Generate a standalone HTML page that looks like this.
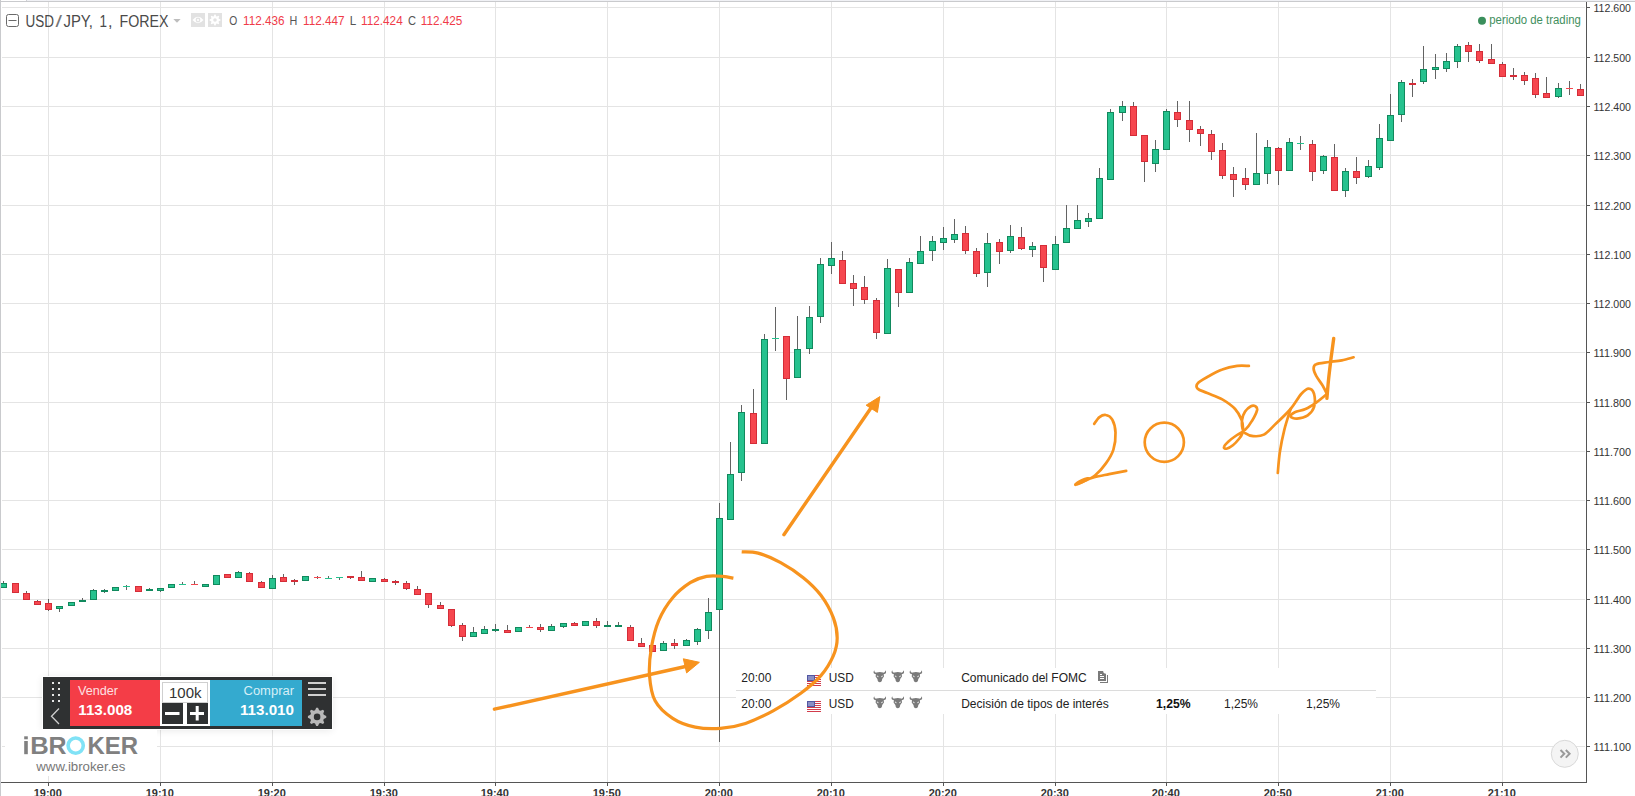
<!DOCTYPE html>
<html><head><meta charset="utf-8">
<style>
html,body{margin:0;padding:0;background:#fff;width:1635px;height:796px;overflow:hidden;}
svg{position:absolute;left:0;top:0;}
text{font-family:"Liberation Sans", sans-serif;}
</style></head><body>
<svg width="1635" height="796" viewBox="0 0 1635 796">
<g shape-rendering="crispEdges">
<rect x="0" y="0" width="1635" height="1" fill="#f0f1f5"/>
<rect x="0" y="0" width="26" height="1" fill="#ffffff"/>
<rect x="26" y="0" width="1" height="1" fill="#d0d0d4"/>
<rect x="0" y="1" width="1635" height="1" fill="#c9cacd"/>
<rect x="2" y="7" width="1583" height="1" fill="#e4e4e4"/>
<rect x="2" y="57" width="1583" height="1" fill="#e4e4e4"/>
<rect x="2" y="106" width="1583" height="1" fill="#e4e4e4"/>
<rect x="2" y="155" width="1583" height="1" fill="#e4e4e4"/>
<rect x="2" y="205" width="1583" height="1" fill="#e4e4e4"/>
<rect x="2" y="254" width="1583" height="1" fill="#e4e4e4"/>
<rect x="2" y="303" width="1583" height="1" fill="#e4e4e4"/>
<rect x="2" y="352" width="1583" height="1" fill="#e4e4e4"/>
<rect x="2" y="402" width="1583" height="1" fill="#e4e4e4"/>
<rect x="2" y="451" width="1583" height="1" fill="#e4e4e4"/>
<rect x="2" y="500" width="1583" height="1" fill="#e4e4e4"/>
<rect x="2" y="549" width="1583" height="1" fill="#e4e4e4"/>
<rect x="2" y="599" width="1583" height="1" fill="#e4e4e4"/>
<rect x="2" y="648" width="1583" height="1" fill="#e4e4e4"/>
<rect x="2" y="697" width="1583" height="1" fill="#e4e4e4"/>
<rect x="2" y="746" width="1583" height="1" fill="#e4e4e4"/>
<rect x="48" y="2" width="1" height="780" fill="#e4e4e4"/>
<rect x="160" y="2" width="1" height="780" fill="#e4e4e4"/>
<rect x="272" y="2" width="1" height="780" fill="#e4e4e4"/>
<rect x="384" y="2" width="1" height="780" fill="#e4e4e4"/>
<rect x="495" y="2" width="1" height="780" fill="#e4e4e4"/>
<rect x="607" y="2" width="1" height="780" fill="#e4e4e4"/>
<rect x="719" y="2" width="1" height="780" fill="#e4e4e4"/>
<rect x="831" y="2" width="1" height="780" fill="#e4e4e4"/>
<rect x="943" y="2" width="1" height="780" fill="#e4e4e4"/>
<rect x="1055" y="2" width="1" height="780" fill="#e4e4e4"/>
<rect x="1166" y="2" width="1" height="780" fill="#e4e4e4"/>
<rect x="1278" y="2" width="1" height="780" fill="#e4e4e4"/>
<rect x="1390" y="2" width="1" height="780" fill="#e4e4e4"/>
<rect x="1502" y="2" width="1" height="780" fill="#e4e4e4"/>
<rect x="1586" y="2" width="1" height="781" fill="#555"/>
<rect x="0" y="782" width="1587" height="1" fill="#555"/>
<rect x="1587" y="7" width="3" height="1" fill="#555"/>
<rect x="1587" y="57" width="3" height="1" fill="#555"/>
<rect x="1587" y="106" width="3" height="1" fill="#555"/>
<rect x="1587" y="155" width="3" height="1" fill="#555"/>
<rect x="1587" y="205" width="3" height="1" fill="#555"/>
<rect x="1587" y="254" width="3" height="1" fill="#555"/>
<rect x="1587" y="303" width="3" height="1" fill="#555"/>
<rect x="1587" y="352" width="3" height="1" fill="#555"/>
<rect x="1587" y="402" width="3" height="1" fill="#555"/>
<rect x="1587" y="451" width="3" height="1" fill="#555"/>
<rect x="1587" y="500" width="3" height="1" fill="#555"/>
<rect x="1587" y="549" width="3" height="1" fill="#555"/>
<rect x="1587" y="599" width="3" height="1" fill="#555"/>
<rect x="1587" y="648" width="3" height="1" fill="#555"/>
<rect x="1587" y="697" width="3" height="1" fill="#555"/>
<rect x="1587" y="746" width="3" height="1" fill="#555"/>
<rect x="48" y="783" width="1" height="3" fill="#555"/>
<rect x="160" y="783" width="1" height="3" fill="#555"/>
<rect x="272" y="783" width="1" height="3" fill="#555"/>
<rect x="384" y="783" width="1" height="3" fill="#555"/>
<rect x="495" y="783" width="1" height="3" fill="#555"/>
<rect x="607" y="783" width="1" height="3" fill="#555"/>
<rect x="719" y="783" width="1" height="3" fill="#555"/>
<rect x="831" y="783" width="1" height="3" fill="#555"/>
<rect x="943" y="783" width="1" height="3" fill="#555"/>
<rect x="1055" y="783" width="1" height="3" fill="#555"/>
<rect x="1166" y="783" width="1" height="3" fill="#555"/>
<rect x="1278" y="783" width="1" height="3" fill="#555"/>
<rect x="1390" y="783" width="1" height="3" fill="#555"/>
<rect x="1502" y="783" width="1" height="3" fill="#555"/>
<rect x="3" y="581" width="1" height="2" fill="#636363"/>
<rect x="0" y="583" width="7" height="5" fill="#11895d"/>
<rect x="1" y="584" width="5" height="3" fill="#26c28e"/>
<rect x="12" y="583" width="7" height="10" fill="#d42d38"/>
<rect x="13" y="584" width="5" height="8" fill="#f6474f"/>
<rect x="26" y="591" width="1" height="2" fill="#636363"/>
<rect x="23" y="593" width="7" height="7" fill="#d42d38"/>
<rect x="24" y="594" width="5" height="5" fill="#f6474f"/>
<rect x="37" y="600" width="1" height="1" fill="#636363"/>
<rect x="34" y="601" width="7" height="4" fill="#d42d38"/>
<rect x="35" y="602" width="5" height="2" fill="#f6474f"/>
<rect x="48" y="599" width="1" height="4" fill="#636363"/>
<rect x="48" y="610" width="1" height="1" fill="#636363"/>
<rect x="45" y="603" width="7" height="7" fill="#d42d38"/>
<rect x="46" y="604" width="5" height="5" fill="#f6474f"/>
<rect x="59" y="609" width="1" height="3" fill="#636363"/>
<rect x="56" y="606" width="7" height="3" fill="#11895d"/>
<rect x="57" y="607" width="5" height="1" fill="#26c28e"/>
<rect x="68" y="602" width="7" height="4" fill="#11895d"/>
<rect x="69" y="603" width="5" height="2" fill="#26c28e"/>
<rect x="82" y="598" width="1" height="2" fill="#636363"/>
<rect x="79" y="600" width="7" height="2" fill="#11895d"/>
<rect x="93" y="589" width="1" height="1" fill="#636363"/>
<rect x="90" y="590" width="7" height="10" fill="#11895d"/>
<rect x="91" y="591" width="5" height="8" fill="#26c28e"/>
<rect x="104" y="589" width="1" height="1" fill="#636363"/>
<rect x="104" y="592" width="1" height="1" fill="#636363"/>
<rect x="101" y="590" width="7" height="2" fill="#11895d"/>
<rect x="112" y="587" width="7" height="4" fill="#11895d"/>
<rect x="113" y="588" width="5" height="2" fill="#26c28e"/>
<rect x="126" y="585" width="1" height="1" fill="#636363"/>
<rect x="126" y="587" width="1" height="3" fill="#636363"/>
<rect x="123" y="586" width="7" height="1" fill="#26c28e"/>
<rect x="135" y="586" width="7" height="6" fill="#d42d38"/>
<rect x="136" y="587" width="5" height="4" fill="#f6474f"/>
<rect x="149" y="588" width="1" height="1" fill="#636363"/>
<rect x="146" y="589" width="7" height="2" fill="#11895d"/>
<rect x="160" y="591" width="1" height="1" fill="#636363"/>
<rect x="157" y="588" width="7" height="3" fill="#11895d"/>
<rect x="158" y="589" width="5" height="1" fill="#26c28e"/>
<rect x="168" y="584" width="7" height="4" fill="#11895d"/>
<rect x="169" y="585" width="5" height="2" fill="#26c28e"/>
<rect x="182" y="582" width="1" height="2" fill="#636363"/>
<rect x="179" y="584" width="7" height="1" fill="#26c28e"/>
<rect x="194" y="581" width="1" height="3" fill="#636363"/>
<rect x="191" y="584" width="7" height="1" fill="#f6474f"/>
<rect x="202" y="584" width="7" height="3" fill="#11895d"/>
<rect x="203" y="585" width="5" height="1" fill="#26c28e"/>
<rect x="213" y="575" width="7" height="10" fill="#11895d"/>
<rect x="214" y="576" width="5" height="8" fill="#26c28e"/>
<rect x="224" y="574" width="7" height="4" fill="#d42d38"/>
<rect x="225" y="575" width="5" height="2" fill="#f6474f"/>
<rect x="238" y="571" width="1" height="1" fill="#636363"/>
<rect x="235" y="572" width="7" height="6" fill="#11895d"/>
<rect x="236" y="573" width="5" height="4" fill="#26c28e"/>
<rect x="249" y="572" width="1" height="1" fill="#636363"/>
<rect x="246" y="573" width="7" height="9" fill="#d42d38"/>
<rect x="247" y="574" width="5" height="7" fill="#f6474f"/>
<rect x="261" y="581" width="1" height="1" fill="#636363"/>
<rect x="258" y="582" width="7" height="6" fill="#d42d38"/>
<rect x="259" y="583" width="5" height="4" fill="#f6474f"/>
<rect x="272" y="575" width="1" height="3" fill="#636363"/>
<rect x="269" y="578" width="7" height="11" fill="#11895d"/>
<rect x="270" y="579" width="5" height="9" fill="#26c28e"/>
<rect x="283" y="574" width="1" height="3" fill="#636363"/>
<rect x="280" y="577" width="7" height="5" fill="#d42d38"/>
<rect x="281" y="578" width="5" height="3" fill="#f6474f"/>
<rect x="294" y="579" width="1" height="1" fill="#636363"/>
<rect x="294" y="582" width="1" height="3" fill="#636363"/>
<rect x="291" y="580" width="7" height="2" fill="#d42d38"/>
<rect x="302" y="576" width="7" height="5" fill="#11895d"/>
<rect x="303" y="577" width="5" height="3" fill="#26c28e"/>
<rect x="317" y="576" width="1" height="1" fill="#636363"/>
<rect x="317" y="578" width="1" height="1" fill="#636363"/>
<rect x="314" y="577" width="7" height="1" fill="#f6474f"/>
<rect x="328" y="576" width="1" height="2" fill="#636363"/>
<rect x="325" y="578" width="7" height="1" fill="#26c28e"/>
<rect x="339" y="578" width="1" height="2" fill="#636363"/>
<rect x="336" y="577" width="7" height="1" fill="#26c28e"/>
<rect x="350" y="578" width="1" height="1" fill="#636363"/>
<rect x="347" y="576" width="7" height="2" fill="#d42d38"/>
<rect x="361" y="571" width="1" height="6" fill="#636363"/>
<rect x="358" y="577" width="7" height="4" fill="#d42d38"/>
<rect x="359" y="578" width="5" height="2" fill="#f6474f"/>
<rect x="369" y="578" width="7" height="4" fill="#11895d"/>
<rect x="370" y="579" width="5" height="2" fill="#26c28e"/>
<rect x="384" y="578" width="1" height="1" fill="#636363"/>
<rect x="381" y="579" width="7" height="3" fill="#d42d38"/>
<rect x="382" y="580" width="5" height="1" fill="#f6474f"/>
<rect x="395" y="580" width="1" height="1" fill="#636363"/>
<rect x="395" y="583" width="1" height="2" fill="#636363"/>
<rect x="392" y="581" width="7" height="2" fill="#d42d38"/>
<rect x="406" y="581" width="1" height="2" fill="#636363"/>
<rect x="406" y="589" width="1" height="1" fill="#636363"/>
<rect x="403" y="583" width="7" height="6" fill="#d42d38"/>
<rect x="404" y="584" width="5" height="4" fill="#f6474f"/>
<rect x="417" y="586" width="1" height="3" fill="#636363"/>
<rect x="414" y="589" width="7" height="6" fill="#d42d38"/>
<rect x="415" y="590" width="5" height="4" fill="#f6474f"/>
<rect x="428" y="605" width="1" height="3" fill="#636363"/>
<rect x="425" y="593" width="7" height="12" fill="#d42d38"/>
<rect x="426" y="594" width="5" height="10" fill="#f6474f"/>
<rect x="440" y="602" width="1" height="3" fill="#636363"/>
<rect x="437" y="605" width="7" height="4" fill="#d42d38"/>
<rect x="438" y="606" width="5" height="2" fill="#f6474f"/>
<rect x="451" y="626" width="1" height="1" fill="#636363"/>
<rect x="448" y="609" width="7" height="17" fill="#d42d38"/>
<rect x="449" y="610" width="5" height="15" fill="#f6474f"/>
<rect x="462" y="623" width="1" height="2" fill="#636363"/>
<rect x="462" y="637" width="1" height="4" fill="#636363"/>
<rect x="459" y="625" width="7" height="12" fill="#d42d38"/>
<rect x="460" y="626" width="5" height="10" fill="#f6474f"/>
<rect x="473" y="627" width="1" height="5" fill="#636363"/>
<rect x="470" y="632" width="7" height="5" fill="#11895d"/>
<rect x="471" y="633" width="5" height="3" fill="#26c28e"/>
<rect x="484" y="626" width="1" height="3" fill="#636363"/>
<rect x="481" y="629" width="7" height="5" fill="#11895d"/>
<rect x="482" y="630" width="5" height="3" fill="#26c28e"/>
<rect x="495" y="624" width="1" height="5" fill="#636363"/>
<rect x="495" y="631" width="1" height="1" fill="#636363"/>
<rect x="492" y="629" width="7" height="2" fill="#11895d"/>
<rect x="507" y="625" width="1" height="5" fill="#636363"/>
<rect x="504" y="630" width="7" height="3" fill="#d42d38"/>
<rect x="505" y="631" width="5" height="1" fill="#f6474f"/>
<rect x="515" y="627" width="7" height="5" fill="#11895d"/>
<rect x="516" y="628" width="5" height="3" fill="#26c28e"/>
<rect x="529" y="625" width="1" height="2" fill="#636363"/>
<rect x="526" y="627" width="7" height="1" fill="#f6474f"/>
<rect x="540" y="624" width="1" height="3" fill="#636363"/>
<rect x="540" y="630" width="1" height="2" fill="#636363"/>
<rect x="537" y="627" width="7" height="3" fill="#d42d38"/>
<rect x="538" y="628" width="5" height="1" fill="#f6474f"/>
<rect x="551" y="624" width="1" height="2" fill="#636363"/>
<rect x="548" y="626" width="7" height="5" fill="#11895d"/>
<rect x="549" y="627" width="5" height="3" fill="#26c28e"/>
<rect x="563" y="627" width="1" height="1" fill="#636363"/>
<rect x="560" y="623" width="7" height="4" fill="#11895d"/>
<rect x="561" y="624" width="5" height="2" fill="#26c28e"/>
<rect x="574" y="622" width="1" height="1" fill="#636363"/>
<rect x="571" y="623" width="7" height="3" fill="#d42d38"/>
<rect x="572" y="624" width="5" height="1" fill="#f6474f"/>
<rect x="582" y="621" width="7" height="5" fill="#11895d"/>
<rect x="583" y="622" width="5" height="3" fill="#26c28e"/>
<rect x="596" y="618" width="1" height="3" fill="#636363"/>
<rect x="596" y="626" width="1" height="2" fill="#636363"/>
<rect x="593" y="621" width="7" height="5" fill="#d42d38"/>
<rect x="594" y="622" width="5" height="3" fill="#f6474f"/>
<rect x="607" y="621" width="1" height="4" fill="#636363"/>
<rect x="604" y="625" width="7" height="2" fill="#11895d"/>
<rect x="618" y="622" width="1" height="3" fill="#636363"/>
<rect x="615" y="625" width="7" height="2" fill="#11895d"/>
<rect x="630" y="625" width="1" height="2" fill="#636363"/>
<rect x="627" y="627" width="7" height="14" fill="#d42d38"/>
<rect x="628" y="628" width="5" height="12" fill="#f6474f"/>
<rect x="641" y="638" width="1" height="5" fill="#636363"/>
<rect x="638" y="643" width="7" height="4" fill="#d42d38"/>
<rect x="639" y="644" width="5" height="2" fill="#f6474f"/>
<rect x="649" y="645" width="7" height="7" fill="#d42d38"/>
<rect x="650" y="646" width="5" height="5" fill="#f6474f"/>
<rect x="663" y="641" width="1" height="2" fill="#636363"/>
<rect x="660" y="643" width="7" height="8" fill="#11895d"/>
<rect x="661" y="644" width="5" height="6" fill="#26c28e"/>
<rect x="674" y="639" width="1" height="4" fill="#636363"/>
<rect x="674" y="646" width="1" height="3" fill="#636363"/>
<rect x="671" y="643" width="7" height="3" fill="#d42d38"/>
<rect x="672" y="644" width="5" height="1" fill="#f6474f"/>
<rect x="686" y="639" width="1" height="1" fill="#636363"/>
<rect x="683" y="640" width="7" height="6" fill="#11895d"/>
<rect x="684" y="641" width="5" height="4" fill="#26c28e"/>
<rect x="697" y="628" width="1" height="1" fill="#636363"/>
<rect x="697" y="642" width="1" height="3" fill="#636363"/>
<rect x="694" y="629" width="7" height="13" fill="#11895d"/>
<rect x="695" y="630" width="5" height="11" fill="#26c28e"/>
<rect x="708" y="598" width="1" height="14" fill="#636363"/>
<rect x="708" y="631" width="1" height="8" fill="#636363"/>
<rect x="705" y="612" width="7" height="19" fill="#11895d"/>
<rect x="706" y="613" width="5" height="17" fill="#26c28e"/>
<rect x="719" y="503" width="1" height="15" fill="#636363"/>
<rect x="719" y="610" width="1" height="132" fill="#636363"/>
<rect x="716" y="518" width="7" height="92" fill="#11895d"/>
<rect x="717" y="519" width="5" height="90" fill="#26c28e"/>
<rect x="730" y="442" width="1" height="32" fill="#636363"/>
<rect x="727" y="474" width="7" height="46" fill="#11895d"/>
<rect x="728" y="475" width="5" height="44" fill="#26c28e"/>
<rect x="741" y="405" width="1" height="7" fill="#636363"/>
<rect x="741" y="473" width="1" height="8" fill="#636363"/>
<rect x="738" y="412" width="7" height="61" fill="#11895d"/>
<rect x="739" y="413" width="5" height="59" fill="#26c28e"/>
<rect x="753" y="389" width="1" height="24" fill="#636363"/>
<rect x="750" y="413" width="7" height="31" fill="#d42d38"/>
<rect x="751" y="414" width="5" height="29" fill="#f6474f"/>
<rect x="764" y="334" width="1" height="5" fill="#636363"/>
<rect x="761" y="339" width="7" height="105" fill="#11895d"/>
<rect x="762" y="340" width="5" height="103" fill="#26c28e"/>
<rect x="775" y="307" width="1" height="31" fill="#636363"/>
<rect x="775" y="339" width="1" height="12" fill="#636363"/>
<rect x="772" y="338" width="7" height="1" fill="#26c28e"/>
<rect x="786" y="379" width="1" height="21" fill="#636363"/>
<rect x="783" y="336" width="7" height="43" fill="#d42d38"/>
<rect x="784" y="337" width="5" height="41" fill="#f6474f"/>
<rect x="797" y="316" width="1" height="33" fill="#636363"/>
<rect x="794" y="349" width="7" height="29" fill="#11895d"/>
<rect x="795" y="350" width="5" height="27" fill="#26c28e"/>
<rect x="809" y="306" width="1" height="11" fill="#636363"/>
<rect x="809" y="349" width="1" height="5" fill="#636363"/>
<rect x="806" y="317" width="7" height="32" fill="#11895d"/>
<rect x="807" y="318" width="5" height="30" fill="#26c28e"/>
<rect x="820" y="258" width="1" height="6" fill="#636363"/>
<rect x="820" y="317" width="1" height="6" fill="#636363"/>
<rect x="817" y="264" width="7" height="53" fill="#11895d"/>
<rect x="818" y="265" width="5" height="51" fill="#26c28e"/>
<rect x="831" y="242" width="1" height="16" fill="#636363"/>
<rect x="831" y="266" width="1" height="8" fill="#636363"/>
<rect x="828" y="258" width="7" height="8" fill="#11895d"/>
<rect x="829" y="259" width="5" height="6" fill="#26c28e"/>
<rect x="842" y="251" width="1" height="9" fill="#636363"/>
<rect x="839" y="260" width="7" height="24" fill="#d42d38"/>
<rect x="840" y="261" width="5" height="22" fill="#f6474f"/>
<rect x="853" y="275" width="1" height="8" fill="#636363"/>
<rect x="853" y="289" width="1" height="17" fill="#636363"/>
<rect x="850" y="283" width="7" height="6" fill="#d42d38"/>
<rect x="851" y="284" width="5" height="4" fill="#f6474f"/>
<rect x="864" y="276" width="1" height="11" fill="#636363"/>
<rect x="864" y="300" width="1" height="4" fill="#636363"/>
<rect x="861" y="287" width="7" height="13" fill="#d42d38"/>
<rect x="862" y="288" width="5" height="11" fill="#f6474f"/>
<rect x="876" y="298" width="1" height="2" fill="#636363"/>
<rect x="876" y="333" width="1" height="6" fill="#636363"/>
<rect x="873" y="300" width="7" height="33" fill="#d42d38"/>
<rect x="874" y="301" width="5" height="31" fill="#f6474f"/>
<rect x="887" y="259" width="1" height="9" fill="#636363"/>
<rect x="884" y="268" width="7" height="66" fill="#11895d"/>
<rect x="885" y="269" width="5" height="64" fill="#26c28e"/>
<rect x="898" y="293" width="1" height="14" fill="#636363"/>
<rect x="895" y="269" width="7" height="24" fill="#d42d38"/>
<rect x="896" y="270" width="5" height="22" fill="#f6474f"/>
<rect x="909" y="258" width="1" height="4" fill="#636363"/>
<rect x="906" y="262" width="7" height="31" fill="#11895d"/>
<rect x="907" y="263" width="5" height="29" fill="#26c28e"/>
<rect x="920" y="236" width="1" height="15" fill="#636363"/>
<rect x="917" y="251" width="7" height="13" fill="#11895d"/>
<rect x="918" y="252" width="5" height="11" fill="#26c28e"/>
<rect x="932" y="236" width="1" height="5" fill="#636363"/>
<rect x="932" y="251" width="1" height="10" fill="#636363"/>
<rect x="929" y="241" width="7" height="10" fill="#11895d"/>
<rect x="930" y="242" width="5" height="8" fill="#26c28e"/>
<rect x="943" y="227" width="1" height="11" fill="#636363"/>
<rect x="943" y="243" width="1" height="7" fill="#636363"/>
<rect x="940" y="238" width="7" height="5" fill="#11895d"/>
<rect x="941" y="239" width="5" height="3" fill="#26c28e"/>
<rect x="954" y="219" width="1" height="15" fill="#636363"/>
<rect x="954" y="240" width="1" height="3" fill="#636363"/>
<rect x="951" y="234" width="7" height="6" fill="#11895d"/>
<rect x="952" y="235" width="5" height="4" fill="#26c28e"/>
<rect x="965" y="226" width="1" height="7" fill="#636363"/>
<rect x="965" y="251" width="1" height="3" fill="#636363"/>
<rect x="962" y="233" width="7" height="18" fill="#d42d38"/>
<rect x="963" y="234" width="5" height="16" fill="#f6474f"/>
<rect x="976" y="248" width="1" height="3" fill="#636363"/>
<rect x="976" y="274" width="1" height="3" fill="#636363"/>
<rect x="973" y="251" width="7" height="23" fill="#d42d38"/>
<rect x="974" y="252" width="5" height="21" fill="#f6474f"/>
<rect x="987" y="233" width="1" height="10" fill="#636363"/>
<rect x="987" y="273" width="1" height="14" fill="#636363"/>
<rect x="984" y="243" width="7" height="30" fill="#11895d"/>
<rect x="985" y="244" width="5" height="28" fill="#26c28e"/>
<rect x="999" y="239" width="1" height="3" fill="#636363"/>
<rect x="999" y="252" width="1" height="12" fill="#636363"/>
<rect x="996" y="242" width="7" height="10" fill="#d42d38"/>
<rect x="997" y="243" width="5" height="8" fill="#f6474f"/>
<rect x="1010" y="225" width="1" height="11" fill="#636363"/>
<rect x="1010" y="251" width="1" height="2" fill="#636363"/>
<rect x="1007" y="236" width="7" height="15" fill="#11895d"/>
<rect x="1008" y="237" width="5" height="13" fill="#26c28e"/>
<rect x="1021" y="227" width="1" height="10" fill="#636363"/>
<rect x="1021" y="249" width="1" height="1" fill="#636363"/>
<rect x="1018" y="237" width="7" height="12" fill="#d42d38"/>
<rect x="1019" y="238" width="5" height="10" fill="#f6474f"/>
<rect x="1032" y="242" width="1" height="4" fill="#636363"/>
<rect x="1032" y="250" width="1" height="7" fill="#636363"/>
<rect x="1029" y="246" width="7" height="4" fill="#11895d"/>
<rect x="1030" y="247" width="5" height="2" fill="#26c28e"/>
<rect x="1043" y="268" width="1" height="14" fill="#636363"/>
<rect x="1040" y="245" width="7" height="23" fill="#d42d38"/>
<rect x="1041" y="246" width="5" height="21" fill="#f6474f"/>
<rect x="1055" y="236" width="1" height="8" fill="#636363"/>
<rect x="1052" y="244" width="7" height="26" fill="#11895d"/>
<rect x="1053" y="245" width="5" height="24" fill="#26c28e"/>
<rect x="1066" y="205" width="1" height="23" fill="#636363"/>
<rect x="1063" y="228" width="7" height="15" fill="#11895d"/>
<rect x="1064" y="229" width="5" height="13" fill="#26c28e"/>
<rect x="1077" y="205" width="1" height="15" fill="#636363"/>
<rect x="1074" y="220" width="7" height="9" fill="#11895d"/>
<rect x="1075" y="221" width="5" height="7" fill="#26c28e"/>
<rect x="1088" y="213" width="1" height="5" fill="#636363"/>
<rect x="1088" y="222" width="1" height="5" fill="#636363"/>
<rect x="1085" y="218" width="7" height="4" fill="#11895d"/>
<rect x="1086" y="219" width="5" height="2" fill="#26c28e"/>
<rect x="1099" y="168" width="1" height="10" fill="#636363"/>
<rect x="1096" y="178" width="7" height="41" fill="#11895d"/>
<rect x="1097" y="179" width="5" height="39" fill="#26c28e"/>
<rect x="1110" y="109" width="1" height="3" fill="#636363"/>
<rect x="1107" y="112" width="7" height="68" fill="#11895d"/>
<rect x="1108" y="113" width="5" height="66" fill="#26c28e"/>
<rect x="1122" y="101" width="1" height="5" fill="#636363"/>
<rect x="1122" y="113" width="1" height="8" fill="#636363"/>
<rect x="1119" y="106" width="7" height="7" fill="#11895d"/>
<rect x="1120" y="107" width="5" height="5" fill="#26c28e"/>
<rect x="1133" y="102" width="1" height="4" fill="#636363"/>
<rect x="1130" y="106" width="7" height="30" fill="#d42d38"/>
<rect x="1131" y="107" width="5" height="28" fill="#f6474f"/>
<rect x="1144" y="162" width="1" height="20" fill="#636363"/>
<rect x="1141" y="135" width="7" height="27" fill="#d42d38"/>
<rect x="1142" y="136" width="5" height="25" fill="#f6474f"/>
<rect x="1155" y="140" width="1" height="9" fill="#636363"/>
<rect x="1155" y="164" width="1" height="8" fill="#636363"/>
<rect x="1152" y="149" width="7" height="15" fill="#11895d"/>
<rect x="1153" y="150" width="5" height="13" fill="#26c28e"/>
<rect x="1166" y="109" width="1" height="2" fill="#636363"/>
<rect x="1163" y="111" width="7" height="39" fill="#11895d"/>
<rect x="1164" y="112" width="5" height="37" fill="#26c28e"/>
<rect x="1177" y="101" width="1" height="11" fill="#636363"/>
<rect x="1177" y="120" width="1" height="7" fill="#636363"/>
<rect x="1174" y="112" width="7" height="8" fill="#d42d38"/>
<rect x="1175" y="113" width="5" height="6" fill="#f6474f"/>
<rect x="1189" y="101" width="1" height="19" fill="#636363"/>
<rect x="1189" y="130" width="1" height="12" fill="#636363"/>
<rect x="1186" y="120" width="7" height="10" fill="#d42d38"/>
<rect x="1187" y="121" width="5" height="8" fill="#f6474f"/>
<rect x="1200" y="126" width="1" height="3" fill="#636363"/>
<rect x="1200" y="134" width="1" height="12" fill="#636363"/>
<rect x="1197" y="129" width="7" height="5" fill="#d42d38"/>
<rect x="1198" y="130" width="5" height="3" fill="#f6474f"/>
<rect x="1211" y="130" width="1" height="4" fill="#636363"/>
<rect x="1211" y="152" width="1" height="8" fill="#636363"/>
<rect x="1208" y="134" width="7" height="18" fill="#d42d38"/>
<rect x="1209" y="135" width="5" height="16" fill="#f6474f"/>
<rect x="1222" y="143" width="1" height="7" fill="#636363"/>
<rect x="1222" y="176" width="1" height="3" fill="#636363"/>
<rect x="1219" y="150" width="7" height="26" fill="#d42d38"/>
<rect x="1220" y="151" width="5" height="24" fill="#f6474f"/>
<rect x="1233" y="167" width="1" height="7" fill="#636363"/>
<rect x="1233" y="180" width="1" height="17" fill="#636363"/>
<rect x="1230" y="174" width="7" height="6" fill="#d42d38"/>
<rect x="1231" y="175" width="5" height="4" fill="#f6474f"/>
<rect x="1245" y="168" width="1" height="10" fill="#636363"/>
<rect x="1245" y="185" width="1" height="5" fill="#636363"/>
<rect x="1242" y="178" width="7" height="7" fill="#d42d38"/>
<rect x="1243" y="179" width="5" height="5" fill="#f6474f"/>
<rect x="1256" y="133" width="1" height="40" fill="#636363"/>
<rect x="1253" y="173" width="7" height="12" fill="#11895d"/>
<rect x="1254" y="174" width="5" height="10" fill="#26c28e"/>
<rect x="1267" y="140" width="1" height="7" fill="#636363"/>
<rect x="1267" y="174" width="1" height="10" fill="#636363"/>
<rect x="1264" y="147" width="7" height="27" fill="#11895d"/>
<rect x="1265" y="148" width="5" height="25" fill="#26c28e"/>
<rect x="1278" y="147" width="1" height="1" fill="#636363"/>
<rect x="1278" y="171" width="1" height="14" fill="#636363"/>
<rect x="1275" y="148" width="7" height="23" fill="#d42d38"/>
<rect x="1276" y="149" width="5" height="21" fill="#f6474f"/>
<rect x="1289" y="138" width="1" height="4" fill="#636363"/>
<rect x="1286" y="142" width="7" height="29" fill="#11895d"/>
<rect x="1287" y="143" width="5" height="27" fill="#26c28e"/>
<rect x="1300" y="136" width="1" height="7" fill="#636363"/>
<rect x="1300" y="144" width="1" height="6" fill="#636363"/>
<rect x="1297" y="143" width="7" height="1" fill="#26c28e"/>
<rect x="1312" y="140" width="1" height="4" fill="#636363"/>
<rect x="1312" y="172" width="1" height="9" fill="#636363"/>
<rect x="1309" y="144" width="7" height="28" fill="#d42d38"/>
<rect x="1310" y="145" width="5" height="26" fill="#f6474f"/>
<rect x="1323" y="155" width="1" height="1" fill="#636363"/>
<rect x="1323" y="171" width="1" height="3" fill="#636363"/>
<rect x="1320" y="156" width="7" height="15" fill="#11895d"/>
<rect x="1321" y="157" width="5" height="13" fill="#26c28e"/>
<rect x="1334" y="144" width="1" height="13" fill="#636363"/>
<rect x="1331" y="157" width="7" height="34" fill="#d42d38"/>
<rect x="1332" y="158" width="5" height="32" fill="#f6474f"/>
<rect x="1345" y="168" width="1" height="3" fill="#636363"/>
<rect x="1345" y="191" width="1" height="6" fill="#636363"/>
<rect x="1342" y="171" width="7" height="20" fill="#11895d"/>
<rect x="1343" y="172" width="5" height="18" fill="#26c28e"/>
<rect x="1356" y="157" width="1" height="14" fill="#636363"/>
<rect x="1356" y="178" width="1" height="6" fill="#636363"/>
<rect x="1353" y="171" width="7" height="7" fill="#d42d38"/>
<rect x="1354" y="172" width="5" height="5" fill="#f6474f"/>
<rect x="1368" y="160" width="1" height="6" fill="#636363"/>
<rect x="1368" y="177" width="1" height="1" fill="#636363"/>
<rect x="1365" y="166" width="7" height="11" fill="#11895d"/>
<rect x="1366" y="167" width="5" height="9" fill="#26c28e"/>
<rect x="1379" y="124" width="1" height="14" fill="#636363"/>
<rect x="1379" y="168" width="1" height="2" fill="#636363"/>
<rect x="1376" y="138" width="7" height="30" fill="#11895d"/>
<rect x="1377" y="139" width="5" height="28" fill="#26c28e"/>
<rect x="1390" y="94" width="1" height="21" fill="#636363"/>
<rect x="1387" y="115" width="7" height="26" fill="#11895d"/>
<rect x="1388" y="116" width="5" height="24" fill="#26c28e"/>
<rect x="1401" y="80" width="1" height="2" fill="#636363"/>
<rect x="1401" y="115" width="1" height="7" fill="#636363"/>
<rect x="1398" y="82" width="7" height="33" fill="#11895d"/>
<rect x="1399" y="83" width="5" height="31" fill="#26c28e"/>
<rect x="1412" y="79" width="1" height="4" fill="#636363"/>
<rect x="1412" y="85" width="1" height="12" fill="#636363"/>
<rect x="1409" y="83" width="7" height="2" fill="#d42d38"/>
<rect x="1423" y="46" width="1" height="23" fill="#636363"/>
<rect x="1423" y="82" width="1" height="2" fill="#636363"/>
<rect x="1420" y="69" width="7" height="13" fill="#11895d"/>
<rect x="1421" y="70" width="5" height="11" fill="#26c28e"/>
<rect x="1435" y="54" width="1" height="13" fill="#636363"/>
<rect x="1435" y="70" width="1" height="9" fill="#636363"/>
<rect x="1432" y="67" width="7" height="3" fill="#11895d"/>
<rect x="1433" y="68" width="5" height="1" fill="#26c28e"/>
<rect x="1446" y="53" width="1" height="8" fill="#636363"/>
<rect x="1446" y="69" width="1" height="3" fill="#636363"/>
<rect x="1443" y="61" width="7" height="8" fill="#11895d"/>
<rect x="1444" y="62" width="5" height="6" fill="#26c28e"/>
<rect x="1457" y="44" width="1" height="2" fill="#636363"/>
<rect x="1457" y="62" width="1" height="6" fill="#636363"/>
<rect x="1454" y="46" width="7" height="16" fill="#11895d"/>
<rect x="1455" y="47" width="5" height="14" fill="#26c28e"/>
<rect x="1468" y="42" width="1" height="3" fill="#636363"/>
<rect x="1468" y="52" width="1" height="10" fill="#636363"/>
<rect x="1465" y="45" width="7" height="7" fill="#d42d38"/>
<rect x="1466" y="46" width="5" height="5" fill="#f6474f"/>
<rect x="1479" y="44" width="1" height="7" fill="#636363"/>
<rect x="1479" y="61" width="1" height="2" fill="#636363"/>
<rect x="1476" y="51" width="7" height="10" fill="#d42d38"/>
<rect x="1477" y="52" width="5" height="8" fill="#f6474f"/>
<rect x="1491" y="44" width="1" height="15" fill="#636363"/>
<rect x="1488" y="59" width="7" height="5" fill="#d42d38"/>
<rect x="1489" y="60" width="5" height="3" fill="#f6474f"/>
<rect x="1502" y="62" width="1" height="2" fill="#636363"/>
<rect x="1499" y="64" width="7" height="13" fill="#d42d38"/>
<rect x="1500" y="65" width="5" height="11" fill="#f6474f"/>
<rect x="1513" y="68" width="1" height="7" fill="#636363"/>
<rect x="1513" y="77" width="1" height="3" fill="#636363"/>
<rect x="1510" y="75" width="7" height="2" fill="#d42d38"/>
<rect x="1524" y="72" width="1" height="3" fill="#636363"/>
<rect x="1524" y="81" width="1" height="4" fill="#636363"/>
<rect x="1521" y="75" width="7" height="6" fill="#d42d38"/>
<rect x="1522" y="76" width="5" height="4" fill="#f6474f"/>
<rect x="1535" y="73" width="1" height="5" fill="#636363"/>
<rect x="1535" y="95" width="1" height="3" fill="#636363"/>
<rect x="1532" y="78" width="7" height="17" fill="#d42d38"/>
<rect x="1533" y="79" width="5" height="15" fill="#f6474f"/>
<rect x="1546" y="77" width="1" height="16" fill="#636363"/>
<rect x="1543" y="93" width="7" height="5" fill="#d42d38"/>
<rect x="1544" y="94" width="5" height="3" fill="#f6474f"/>
<rect x="1558" y="83" width="1" height="5" fill="#636363"/>
<rect x="1558" y="97" width="1" height="1" fill="#636363"/>
<rect x="1555" y="88" width="7" height="9" fill="#11895d"/>
<rect x="1556" y="89" width="5" height="7" fill="#26c28e"/>
<rect x="1569" y="81" width="1" height="7" fill="#636363"/>
<rect x="1569" y="89" width="1" height="6" fill="#636363"/>
<rect x="1566" y="88" width="7" height="1" fill="#f6474f"/>
<rect x="1580" y="84" width="1" height="5" fill="#636363"/>
<rect x="1577" y="89" width="7" height="7" fill="#d42d38"/>
<rect x="1578" y="90" width="5" height="5" fill="#f6474f"/>
<rect x="0" y="0" width="1" height="796" fill="#c9cacd"/>
</g>
<text x="1593.5" y="12" font-size="11" font-weight="normal" fill="#333" text-anchor="start" textLength="37.5" lengthAdjust="spacingAndGlyphs">112.600</text>
<text x="1593.5" y="62" font-size="11" font-weight="normal" fill="#333" text-anchor="start" textLength="37.5" lengthAdjust="spacingAndGlyphs">112.500</text>
<text x="1593.5" y="111" font-size="11" font-weight="normal" fill="#333" text-anchor="start" textLength="37.5" lengthAdjust="spacingAndGlyphs">112.400</text>
<text x="1593.5" y="160" font-size="11" font-weight="normal" fill="#333" text-anchor="start" textLength="37.5" lengthAdjust="spacingAndGlyphs">112.300</text>
<text x="1593.5" y="210" font-size="11" font-weight="normal" fill="#333" text-anchor="start" textLength="37.5" lengthAdjust="spacingAndGlyphs">112.200</text>
<text x="1593.5" y="259" font-size="11" font-weight="normal" fill="#333" text-anchor="start" textLength="37.5" lengthAdjust="spacingAndGlyphs">112.100</text>
<text x="1593.5" y="308" font-size="11" font-weight="normal" fill="#333" text-anchor="start" textLength="37.5" lengthAdjust="spacingAndGlyphs">112.000</text>
<text x="1593.5" y="357" font-size="11" font-weight="normal" fill="#333" text-anchor="start" textLength="37.5" lengthAdjust="spacingAndGlyphs">111.900</text>
<text x="1593.5" y="407" font-size="11" font-weight="normal" fill="#333" text-anchor="start" textLength="37.5" lengthAdjust="spacingAndGlyphs">111.800</text>
<text x="1593.5" y="456" font-size="11" font-weight="normal" fill="#333" text-anchor="start" textLength="37.5" lengthAdjust="spacingAndGlyphs">111.700</text>
<text x="1593.5" y="505" font-size="11" font-weight="normal" fill="#333" text-anchor="start" textLength="37.5" lengthAdjust="spacingAndGlyphs">111.600</text>
<text x="1593.5" y="554" font-size="11" font-weight="normal" fill="#333" text-anchor="start" textLength="37.5" lengthAdjust="spacingAndGlyphs">111.500</text>
<text x="1593.5" y="604" font-size="11" font-weight="normal" fill="#333" text-anchor="start" textLength="37.5" lengthAdjust="spacingAndGlyphs">111.400</text>
<text x="1593.5" y="653" font-size="11" font-weight="normal" fill="#333" text-anchor="start" textLength="37.5" lengthAdjust="spacingAndGlyphs">111.300</text>
<text x="1593.5" y="702" font-size="11" font-weight="normal" fill="#333" text-anchor="start" textLength="37.5" lengthAdjust="spacingAndGlyphs">111.200</text>
<text x="1593.5" y="751" font-size="11" font-weight="normal" fill="#333" text-anchor="start" textLength="37.5" lengthAdjust="spacingAndGlyphs">111.100</text>
<text x="47.8" y="797" font-size="11" font-weight="bold" fill="#333" text-anchor="middle">19:00</text>
<text x="159.8" y="797" font-size="11" font-weight="bold" fill="#333" text-anchor="middle">19:10</text>
<text x="271.8" y="797" font-size="11" font-weight="bold" fill="#333" text-anchor="middle">19:20</text>
<text x="383.8" y="797" font-size="11" font-weight="bold" fill="#333" text-anchor="middle">19:30</text>
<text x="494.8" y="797" font-size="11" font-weight="bold" fill="#333" text-anchor="middle">19:40</text>
<text x="606.8" y="797" font-size="11" font-weight="bold" fill="#333" text-anchor="middle">19:50</text>
<text x="718.8" y="797" font-size="11" font-weight="bold" fill="#333" text-anchor="middle">20:00</text>
<text x="830.8" y="797" font-size="11" font-weight="bold" fill="#333" text-anchor="middle">20:10</text>
<text x="942.8" y="797" font-size="11" font-weight="bold" fill="#333" text-anchor="middle">20:20</text>
<text x="1054.8" y="797" font-size="11" font-weight="bold" fill="#333" text-anchor="middle">20:30</text>
<text x="1165.8" y="797" font-size="11" font-weight="bold" fill="#333" text-anchor="middle">20:40</text>
<text x="1277.8" y="797" font-size="11" font-weight="bold" fill="#333" text-anchor="middle">20:50</text>
<text x="1389.8" y="797" font-size="11" font-weight="bold" fill="#333" text-anchor="middle">21:00</text>
<text x="1501.8" y="797" font-size="11" font-weight="bold" fill="#333" text-anchor="middle">21:10</text>
<rect x="6.5" y="14.5" width="12" height="12" rx="2" fill="none" stroke="#6a6a6a" stroke-width="1"/>
<rect x="8.5" y="20" width="8" height="1" fill="#6a6a6a"/>
<text x="25.5" y="27" font-size="16" font-weight="normal" fill="#4a4a4a" text-anchor="start" textLength="28.5" lengthAdjust="spacingAndGlyphs">USD</text>
<text x="55.5" y="27" font-size="16" font-weight="normal" fill="#777" text-anchor="start" textLength="6.5" lengthAdjust="spacingAndGlyphs">/</text>
<text x="63.5" y="27" font-size="16" font-weight="normal" fill="#4a4a4a" text-anchor="start" textLength="29.5" lengthAdjust="spacingAndGlyphs">JPY,</text>
<text x="99.5" y="27" font-size="16" font-weight="normal" fill="#4a4a4a" text-anchor="start" textLength="7.5" lengthAdjust="spacingAndGlyphs">1</text>
<text x="108" y="27" font-size="16" font-weight="normal" fill="#4a4a4a" text-anchor="start" textLength="4.5" lengthAdjust="spacingAndGlyphs">,</text>
<text x="119.5" y="27" font-size="16" font-weight="normal" fill="#4a4a4a" text-anchor="start" textLength="49" lengthAdjust="spacingAndGlyphs">FOREX</text>
<path d="M173.3,19 L180.6,19 L177,22.7 Z" fill="#bdbdbd"/>
<rect x="191" y="13" width="14" height="14" fill="#e2e2e2"/>
<path d="M192.5,20 Q198,13.5 203.5,20 Q198,26.5 192.5,20 Z" fill="#fff"/><circle cx="198" cy="20" r="2.4" fill="#e2e2e2"/><circle cx="198" cy="20" r="1.1" fill="#fff"/>
<rect x="208" y="13" width="14" height="14" fill="#e2e2e2"/>
<path d="M220.47,19.46 L220.47,20.54 L218.83,21.16 L218.53,21.89 L219.25,23.49 L218.49,24.25 L216.89,23.53 L216.16,23.83 L215.54,25.47 L214.46,25.47 L213.84,23.83 L213.11,23.53 L211.51,24.25 L210.75,23.49 L211.47,21.89 L211.17,21.16 L209.53,20.54 L209.53,19.46 L211.17,18.84 L211.47,18.11 L210.75,16.51 L211.51,15.75 L213.11,16.47 L213.84,16.17 L214.46,14.53 L215.54,14.53 L216.16,16.17 L216.89,16.47 L218.49,15.75 L219.25,16.51 L218.53,18.11 L218.83,18.84 Z" fill="#fff"/><circle cx="215" cy="20" r="1.8" fill="#e2e2e2"/>
<text x="229.2" y="25" font-size="12" font-weight="normal" fill="#555" text-anchor="start" textLength="8" lengthAdjust="spacingAndGlyphs">O</text>
<text x="243" y="25" font-size="12" font-weight="normal" fill="#f03b49" text-anchor="start" textLength="41.5" lengthAdjust="spacingAndGlyphs">112.436</text>
<text x="289.5" y="25" font-size="12" font-weight="normal" fill="#555" text-anchor="start" textLength="7.8" lengthAdjust="spacingAndGlyphs">H</text>
<text x="303" y="25" font-size="12" font-weight="normal" fill="#f03b49" text-anchor="start" textLength="41.5" lengthAdjust="spacingAndGlyphs">112.447</text>
<text x="349.8" y="25" font-size="12" font-weight="normal" fill="#555" text-anchor="start" textLength="6.5" lengthAdjust="spacingAndGlyphs">L</text>
<text x="361" y="25" font-size="12" font-weight="normal" fill="#f03b49" text-anchor="start" textLength="41.7" lengthAdjust="spacingAndGlyphs">112.424</text>
<text x="408" y="25" font-size="12" font-weight="normal" fill="#555" text-anchor="start" textLength="8" lengthAdjust="spacingAndGlyphs">C</text>
<text x="420.8" y="25" font-size="12" font-weight="normal" fill="#f03b49" text-anchor="start" textLength="41.5" lengthAdjust="spacingAndGlyphs">112.425</text>
<circle cx="1482" cy="20.7" r="4" fill="#3a8f5c"/>
<text x="1489.3" y="24" font-size="12.5" font-weight="normal" fill="#3f8f5e" text-anchor="start" textLength="91.5" lengthAdjust="spacingAndGlyphs">periodo de trading</text>
<circle cx="1564.8" cy="753.8" r="13.5" fill="#f4f4f4" stroke="#d9d9d9" stroke-width="1"/>
<path d="M1560.5,750 L1564.3,753.8 L1560.5,757.6 M1565.8,750 L1569.6,753.8 L1565.8,757.6" fill="none" stroke="#9a9a9a" stroke-width="2"/>
<rect x="736" y="668" width="640" height="46" fill="#fff"/>
<rect x="736" y="690" width="640" height="1" fill="#dcdcdc"/>
<text x="741.3" y="682" font-size="12" font-weight="normal" fill="#222" text-anchor="start" textLength="30" lengthAdjust="spacingAndGlyphs">20:00</text>
<rect x="807" y="675" width="14" height="11" fill="#fff"/><rect x="807" y="675" width="14" height="1" fill="#d23c4c"/><rect x="807" y="677" width="14" height="1" fill="#d23c4c"/><rect x="807" y="679" width="14" height="1" fill="#d23c4c"/><rect x="807" y="681" width="14" height="1" fill="#d23c4c"/><rect x="807" y="683" width="14" height="1" fill="#d23c4c"/><rect x="807" y="685" width="14" height="1" fill="#d23c4c"/><rect x="807" y="675" width="8" height="6" fill="#5257a3"/><rect x="808" y="676" width="6" height="4" fill="#8a8ec4"/>
<text x="828.7" y="682" font-size="12" font-weight="normal" fill="#222" text-anchor="start" textLength="25" lengthAdjust="spacingAndGlyphs">USD</text>
<path d="M874.20,670.30 Q872.20,673.90 875.90,674.30 L875.60,676.50 L877.40,678.90 Q877.70,682.20 879.80,682.20 Q881.90,682.20 882.20,678.90 L884.00,676.50 L883.70,674.30 Q887.40,673.90 885.40,670.30 Q885.20,672.90 883.20,672.60 Q879.80,671.20 876.40,672.60 Q874.40,672.90 874.20,670.30 Z" fill="#7a7a7a"/><ellipse cx="877.70" cy="676.40" rx="1.1" ry="0.6" transform="rotate(40 877.70 676.40)" fill="#e8e8e8"/><ellipse cx="882.00" cy="676.40" rx="1.1" ry="0.6" transform="rotate(-40 882.00 676.40)" fill="#e8e8e8"/>
<path d="M892.20,670.30 Q890.20,673.90 893.90,674.30 L893.60,676.50 L895.40,678.90 Q895.70,682.20 897.80,682.20 Q899.90,682.20 900.20,678.90 L902.00,676.50 L901.70,674.30 Q905.40,673.90 903.40,670.30 Q903.20,672.90 901.20,672.60 Q897.80,671.20 894.40,672.60 Q892.40,672.90 892.20,670.30 Z" fill="#7a7a7a"/><ellipse cx="895.70" cy="676.40" rx="1.1" ry="0.6" transform="rotate(40 895.70 676.40)" fill="#e8e8e8"/><ellipse cx="900.00" cy="676.40" rx="1.1" ry="0.6" transform="rotate(-40 900.00 676.40)" fill="#e8e8e8"/>
<path d="M910.30,670.30 Q908.30,673.90 912.00,674.30 L911.70,676.50 L913.50,678.90 Q913.80,682.20 915.90,682.20 Q918.00,682.20 918.30,678.90 L920.10,676.50 L919.80,674.30 Q923.50,673.90 921.50,670.30 Q921.30,672.90 919.30,672.60 Q915.90,671.20 912.50,672.60 Q910.50,672.90 910.30,670.30 Z" fill="#7a7a7a"/><ellipse cx="913.80" cy="676.40" rx="1.1" ry="0.6" transform="rotate(40 913.80 676.40)" fill="#e8e8e8"/><ellipse cx="918.10" cy="676.40" rx="1.1" ry="0.6" transform="rotate(-40 918.10 676.40)" fill="#e8e8e8"/>
<text x="741.3" y="708" font-size="12" font-weight="normal" fill="#222" text-anchor="start" textLength="30" lengthAdjust="spacingAndGlyphs">20:00</text>
<rect x="807" y="701" width="14" height="11" fill="#fff"/><rect x="807" y="701" width="14" height="1" fill="#d23c4c"/><rect x="807" y="703" width="14" height="1" fill="#d23c4c"/><rect x="807" y="705" width="14" height="1" fill="#d23c4c"/><rect x="807" y="707" width="14" height="1" fill="#d23c4c"/><rect x="807" y="709" width="14" height="1" fill="#d23c4c"/><rect x="807" y="711" width="14" height="1" fill="#d23c4c"/><rect x="807" y="701" width="8" height="6" fill="#5257a3"/><rect x="808" y="702" width="6" height="4" fill="#8a8ec4"/>
<text x="828.7" y="708" font-size="12" font-weight="normal" fill="#222" text-anchor="start" textLength="25" lengthAdjust="spacingAndGlyphs">USD</text>
<path d="M874.20,696.30 Q872.20,699.90 875.90,700.30 L875.60,702.50 L877.40,704.90 Q877.70,708.20 879.80,708.20 Q881.90,708.20 882.20,704.90 L884.00,702.50 L883.70,700.30 Q887.40,699.90 885.40,696.30 Q885.20,698.90 883.20,698.60 Q879.80,697.20 876.40,698.60 Q874.40,698.90 874.20,696.30 Z" fill="#7a7a7a"/><ellipse cx="877.70" cy="702.40" rx="1.1" ry="0.6" transform="rotate(40 877.70 702.40)" fill="#e8e8e8"/><ellipse cx="882.00" cy="702.40" rx="1.1" ry="0.6" transform="rotate(-40 882.00 702.40)" fill="#e8e8e8"/>
<path d="M892.20,696.30 Q890.20,699.90 893.90,700.30 L893.60,702.50 L895.40,704.90 Q895.70,708.20 897.80,708.20 Q899.90,708.20 900.20,704.90 L902.00,702.50 L901.70,700.30 Q905.40,699.90 903.40,696.30 Q903.20,698.90 901.20,698.60 Q897.80,697.20 894.40,698.60 Q892.40,698.90 892.20,696.30 Z" fill="#7a7a7a"/><ellipse cx="895.70" cy="702.40" rx="1.1" ry="0.6" transform="rotate(40 895.70 702.40)" fill="#e8e8e8"/><ellipse cx="900.00" cy="702.40" rx="1.1" ry="0.6" transform="rotate(-40 900.00 702.40)" fill="#e8e8e8"/>
<path d="M910.30,696.30 Q908.30,699.90 912.00,700.30 L911.70,702.50 L913.50,704.90 Q913.80,708.20 915.90,708.20 Q918.00,708.20 918.30,704.90 L920.10,702.50 L919.80,700.30 Q923.50,699.90 921.50,696.30 Q921.30,698.90 919.30,698.60 Q915.90,697.20 912.50,698.60 Q910.50,698.90 910.30,696.30 Z" fill="#7a7a7a"/><ellipse cx="913.80" cy="702.40" rx="1.1" ry="0.6" transform="rotate(40 913.80 702.40)" fill="#e8e8e8"/><ellipse cx="918.10" cy="702.40" rx="1.1" ry="0.6" transform="rotate(-40 918.10 702.40)" fill="#e8e8e8"/>
<text x="961.2" y="682" font-size="12" font-weight="normal" fill="#222" text-anchor="start" textLength="125.5" lengthAdjust="spacingAndGlyphs">Comunicado del FOMC</text>
<g shape-rendering="crispEdges"><rect x="1098" y="671" width="8" height="10" fill="#7a7a7a"/><rect x="1100" y="674" width="2" height="1" fill="#fff"/><rect x="1100" y="676" width="4" height="1" fill="#fff"/><rect x="1100" y="678" width="4" height="1" fill="#fff"/><rect x="1107" y="675" width="1" height="8" fill="#7a7a7a"/><rect x="1100" y="682" width="8" height="1" fill="#7a7a7a"/></g><path d="M1103.2,671 L1106,671 L1106,673.8 Q1103.2,673.8 1103.2,671 Z" fill="#fff"/>
<text x="961.2" y="708" font-size="12" font-weight="normal" fill="#222" text-anchor="start" textLength="147.5" lengthAdjust="spacingAndGlyphs">Decisión de tipos de interés</text>
<text x="1156" y="708" font-size="12" font-weight="bold" fill="#111" text-anchor="start" textLength="34.5" lengthAdjust="spacingAndGlyphs">1,25%</text>
<text x="1224" y="708" font-size="12" font-weight="normal" fill="#222" text-anchor="start" textLength="34" lengthAdjust="spacingAndGlyphs">1,25%</text>
<text x="1306" y="708" font-size="12" font-weight="normal" fill="#222" text-anchor="start" textLength="34" lengthAdjust="spacingAndGlyphs">1,25%</text>
<defs><filter id="sh" x="-20%" y="-50%" width="140%" height="200%"><feGaussianBlur stdDeviation="4"/></filter></defs>
<rect x="43" y="678" width="289" height="52" fill="#000" opacity="0.10" filter="url(#sh)"/>
<rect x="42" y="676" width="291" height="54" fill="#fff"/>
<rect x="43" y="677" width="289" height="52" fill="#2f3132"/>
<rect x="70" y="680" width="90" height="46" fill="#f43d47"/>
<rect x="160" y="680" width="50" height="46" fill="#ffffff"/>
<rect x="210" y="680" width="92" height="46" fill="#34aacf"/>
<rect x="52" y="682" width="2" height="2" fill="#e6e6e6"/>
<rect x="52" y="688" width="2" height="2" fill="#e6e6e6"/>
<rect x="52" y="694" width="2" height="2" fill="#e6e6e6"/>
<rect x="52" y="700" width="2" height="2" fill="#e6e6e6"/>
<rect x="58" y="682" width="2" height="2" fill="#e6e6e6"/>
<rect x="58" y="688" width="2" height="2" fill="#e6e6e6"/>
<rect x="58" y="694" width="2" height="2" fill="#e6e6e6"/>
<rect x="58" y="700" width="2" height="2" fill="#e6e6e6"/>
<path d="M59,708.5 L51.5,716.2 L59,724" fill="none" stroke="#cfcfcf" stroke-width="1.3"/>
<text x="78" y="695.3" font-size="12.5" font-weight="normal" fill="#fde0e2" text-anchor="start" textLength="40" lengthAdjust="spacingAndGlyphs">Vender</text>
<text x="78.3" y="715" font-size="15" font-weight="bold" fill="#fff" text-anchor="start" textLength="54" lengthAdjust="spacingAndGlyphs">113.008</text>
<rect x="162.5" y="682.5" width="45" height="20" fill="#fff" stroke="#cfcfcf" stroke-width="1"/>
<text x="169" y="698" font-size="15" font-weight="normal" fill="#333" text-anchor="start" textLength="32.5" lengthAdjust="spacingAndGlyphs">100k</text>
<rect x="162" y="703" width="21" height="21" fill="#2f3132"/>
<rect x="187" y="703" width="21" height="21" fill="#2f3132"/>
<rect x="165" y="712" width="14.5" height="3" fill="#fff"/>
<rect x="190" y="712" width="14" height="3" fill="#fff"/><rect x="195.7" y="706" width="3" height="14.5" fill="#fff"/>
<text x="294" y="695.3" font-size="12.5" font-weight="normal" fill="#d6eff7" text-anchor="end" textLength="50.5" lengthAdjust="spacingAndGlyphs">Comprar</text>
<text x="294" y="715.2" font-size="15" font-weight="bold" fill="#fff" text-anchor="end" textLength="54" lengthAdjust="spacingAndGlyphs">113.010</text>
<rect x="308" y="682" width="18" height="2" fill="#d0d0d0"/>
<rect x="308" y="688" width="18" height="2" fill="#d0d0d0"/>
<rect x="308" y="694" width="18" height="2" fill="#d0d0d0"/>
<path d="M326.26,716.00 L326.26,717.80 L323.80,718.93 L323.27,720.20 L324.21,722.74 L322.94,724.01 L320.40,723.07 L319.13,723.60 L318.00,726.06 L316.20,726.06 L315.07,723.60 L313.80,723.07 L311.26,724.01 L309.99,722.74 L310.93,720.20 L310.40,718.93 L307.94,717.80 L307.94,716.00 L310.40,714.87 L310.93,713.60 L309.99,711.06 L311.26,709.79 L313.80,710.73 L315.07,710.20 L316.20,707.74 L318.00,707.74 L319.13,710.20 L320.40,710.73 L322.94,709.79 L324.21,711.06 L323.27,713.60 L323.80,714.87 Z" fill="#b8b8b8"/><circle cx="317.1" cy="716.9" r="3.3" fill="#2f3132"/>
<rect x="5" y="730" width="152" height="46" fill="#fff"/>
<rect x="24.2" y="736.3" width="3.6" height="3" fill="#808080"/>
<rect x="24.2" y="741" width="3.6" height="13.2" fill="#808080"/>
<text x="30.3" y="754.2" font-size="24.5" font-weight="bold" fill="#808080" textLength="18.5" lengthAdjust="spacingAndGlyphs">B</text>
<text x="48.6" y="754.2" font-size="24.5" font-weight="bold" fill="#808080" textLength="18" lengthAdjust="spacingAndGlyphs">R</text>
<circle cx="75.7" cy="745.6" r="7.6" fill="none" stroke="#80e2f6" stroke-width="3.6"/>
<text x="87.5" y="754.2" font-size="24.5" font-weight="bold" fill="#808080" textLength="50.5" lengthAdjust="spacingAndGlyphs">KER</text>
<text x="36.3" y="771" font-size="13" font-weight="normal" fill="#777" text-anchor="start" textLength="89" lengthAdjust="spacingAndGlyphs">www.ibroker.es</text>
<path d="M741.7,551.8 C744.5,552.0 751.6,551.3 758.1,553.1 C764.6,554.9 773.1,558.5 780.7,562.6 C788.2,566.7 796.6,572.2 803.3,577.7 C810.0,583.1 815.8,588.6 820.9,595.3 C825.9,602.0 830.7,610.8 833.4,617.9 C836.1,625.0 837.2,631.7 837.2,638.0 C837.2,644.2 836.1,649.3 833.4,655.6 C830.7,661.8 826.3,669.4 820.9,675.6 C815.4,681.9 808.7,687.4 800.8,693.2 C792.8,699.1 782.3,705.8 773.1,710.8 C763.9,715.8 754.3,720.4 745.5,723.4 C736.7,726.3 728.8,727.8 720.4,728.4 C712.0,729.0 703.2,728.8 695.3,727.1 C687.3,725.5 679.4,722.7 672.7,718.3 C666.0,714.0 658.9,707.9 655.1,700.8 C651.2,693.6 650.2,684.4 649.5,675.6 C648.9,666.9 649.8,657.2 651.3,648.0 C652.9,638.8 655.3,628.8 658.8,620.4 C662.4,612.0 667.4,604.1 672.7,597.8 C677.9,591.5 684.6,586.3 690.2,582.7 C695.9,579.1 701.1,577.5 706.6,576.4 C712.0,575.4 718.4,576.1 722.9,576.4 C727.4,576.7 731.7,577.9 733.4,578.2" fill="none" stroke="#f7931e" stroke-width="3.2" stroke-linecap="butt" stroke-linejoin="round"/>
<path d="M494.4,709.2 L690,665.5" fill="none" stroke="#f7931e" stroke-width="3.4" stroke-linecap="round"/>
<path d="M683.3,658.8 L699.4,662.3 L686.6,672.9 Z" fill="#f7931e" stroke="#f7931e" stroke-width="1" stroke-linejoin="round"/>
<path d="M783.9,534.7 L873,405" fill="none" stroke="#f7931e" stroke-width="3.4" stroke-linecap="round"/>
<path d="M866.1,405.2 L879.9,396.6 L877.4,412.4 Z" fill="#f7931e" stroke="#f7931e" stroke-width="1" stroke-linejoin="round"/>
<path d="M1094.2,423.9 C1095.0,422.8 1097.5,418.6 1099.5,417.1 C1101.5,415.6 1103.8,414.5 1105.9,415.0 C1108.0,415.4 1110.7,416.7 1112.3,419.7 C1113.9,422.6 1115.3,427.5 1115.5,432.5 C1115.7,437.5 1115.0,444.4 1113.4,449.6 C1111.8,454.7 1108.9,459.2 1105.9,463.4 C1102.9,467.7 1099.0,472.2 1095.2,475.2 C1091.5,478.2 1086.8,480.0 1083.5,481.6 C1080.2,483.2 1075.9,484.7 1075.4,484.8 C1074.8,484.9 1077.2,483.3 1080.3,482.0 C1083.4,480.8 1089.4,478.6 1094.2,477.3 C1099.0,476.0 1103.8,475.2 1109.1,474.1 C1114.4,473.0 1123.3,471.4 1126.2,470.9" fill="none" stroke="#f7931e" stroke-width="2.7" stroke-linecap="round" stroke-linejoin="round"/>
<path d="M1248.9,365.9 C1247.0,365.9 1241.6,365.3 1237.2,365.9 C1232.8,366.5 1227.2,367.6 1222.3,369.5 C1217.3,371.3 1211.4,374.7 1207.3,377.0 C1203.2,379.3 1199.3,381.4 1197.7,383.4 C1196.1,385.3 1196.1,387.1 1197.7,388.7 C1199.3,390.3 1203.2,391.2 1207.3,393.0 C1211.4,394.8 1217.6,396.7 1222.3,399.4 C1226.9,402.1 1231.9,405.6 1235.1,409.0 C1238.3,412.4 1240.2,416.5 1241.5,419.7 C1242.8,422.8 1242.8,425.7 1243.0,428.0 C1243.1,430.3 1242.9,431.8 1242.3,433.5 C1241.7,435.3 1240.9,436.5 1239.3,438.5 C1237.8,440.4 1235.1,443.6 1232.9,445.3 C1230.8,447.0 1228.0,448.4 1226.5,448.7 C1225.0,449.0 1223.7,448.2 1224.0,447.0 C1224.2,445.8 1226.2,443.6 1228.2,441.7 C1230.3,439.7 1233.5,437.4 1236.3,435.5 C1239.2,433.5 1242.5,432.4 1245.1,429.9 C1247.7,427.5 1250.2,424.0 1252.1,420.7 C1254.1,417.4 1256.5,412.5 1257.1,410.1 C1257.6,407.6 1256.4,406.9 1255.3,406.2 C1254.3,405.6 1252.6,405.3 1250.9,406.2 C1249.2,407.1 1246.6,409.3 1245.1,411.6 C1243.6,413.8 1242.5,417.0 1242.1,419.9 C1241.7,422.8 1242.0,426.6 1242.5,428.8 C1243.0,431.1 1243.3,431.9 1245.1,433.1 C1246.9,434.3 1250.1,435.9 1253.2,436.1 C1256.3,436.4 1260.1,436.6 1263.9,434.6 C1267.6,432.6 1271.2,428.2 1275.6,423.9 C1280.1,419.7 1286.3,414.0 1290.6,409.0 C1294.8,404.0 1298.2,397.4 1301.2,394.0 C1304.3,390.7 1306.6,388.7 1308.7,388.7 C1310.9,388.7 1313.2,391.0 1314.1,394.0 C1314.9,397.1 1315.1,403.3 1314.1,406.9 C1313.0,410.4 1310.5,413.4 1307.7,415.4 C1304.8,417.4 1299.8,418.4 1297.0,418.6 C1294.1,418.8 1290.9,417.5 1290.6,416.5 C1290.2,415.4 1292.4,413.4 1294.8,412.2 C1297.3,410.9 1302.0,410.6 1305.5,409.0 C1309.1,407.4 1312.6,405.1 1316.2,402.6 C1319.7,400.1 1325.1,395.5 1326.9,394.0" fill="none" stroke="#f7931e" stroke-width="2.7" stroke-linecap="round" stroke-linejoin="round"/>
<path d="M1277.8,473.0 C1278.1,469.5 1278.8,458.8 1279.9,451.7 C1281.0,444.6 1282.4,437.5 1284.2,430.3 C1285.9,423.2 1289.5,412.6 1290.6,409.0" fill="none" stroke="#f7931e" stroke-width="2.7" stroke-linecap="round" stroke-linejoin="round"/>
<path d="M1353.6,357.3 C1351.6,357.8 1345.9,359.5 1341.8,360.3 C1337.7,361.1 1333.3,361.4 1329.0,362.0 C1324.7,362.7 1318.8,363.1 1316.2,364.2 C1313.6,365.2 1313.6,366.5 1313.6,368.4 C1313.6,370.4 1314.7,373.1 1316.2,375.9 C1317.7,378.7 1320.8,382.5 1322.6,385.5 C1324.4,388.5 1326.2,392.6 1326.9,394.0" fill="none" stroke="#f7931e" stroke-width="2.7" stroke-linecap="round" stroke-linejoin="round"/>
<path d="M1333.7,338.5 C1333.3,341.7 1332.0,351.0 1331.1,357.8 C1330.3,364.5 1329.3,372.3 1328.6,379.1 C1327.9,385.9 1327.2,395.1 1326.9,398.3" fill="none" stroke="#f7931e" stroke-width="3.4" stroke-linecap="round" stroke-linejoin="round"/>
<ellipse cx="1082.3" cy="481" rx="8.5" ry="2.3" transform="rotate(-24 1082.3 481)" fill="#f7931e"/>
<ellipse cx="1164.3" cy="442.3" rx="19.6" ry="19.6" fill="none" stroke="#f7931e" stroke-width="2.7"/>
</svg>
</body></html>
